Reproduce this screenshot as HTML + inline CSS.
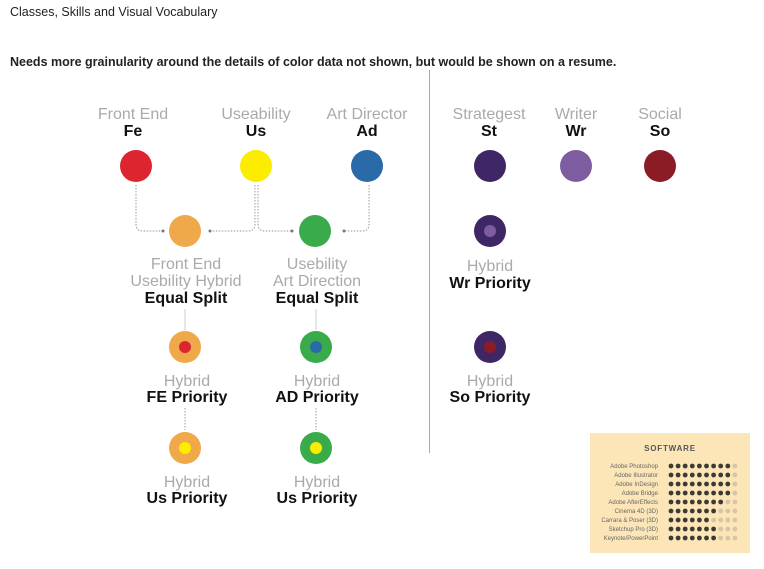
<!DOCTYPE html>
<html><head><meta charset="utf-8"><style>
body{margin:0;background:#fff;}
svg{display:block;font-family:"Liberation Sans",sans-serif;}
</style></head><body>
<svg width="764" height="569" viewBox="0 0 764 569">
<text x="10" y="16" font-size="12.5" fill="#222">Classes, Skills and Visual Vocabulary</text>
<text x="10" y="66" font-size="12.5" font-weight="bold" fill="#222">Needs more grainularity around the details of color data not shown, but would be shown on a resume.</text>
<line x1="429.5" y1="70" x2="429.5" y2="453" stroke="#aaa" stroke-width="1"/>
<g font-size="16" text-anchor="middle">
<g fill="#aaa">
<text x="133" y="119">Front End</text><text x="256" y="119">Useability</text><text x="367" y="119">Art Director</text>
<text x="489" y="119">Strategest</text><text x="576" y="119">Writer</text><text x="660" y="119">Social</text>
<text x="186" y="269">Front End</text><text x="186" y="286">Usebility Hybrid</text>
<text x="317" y="269">Usebility</text><text x="317" y="286">Art Direction</text>
<text x="490" y="271">Hybrid</text>
<text x="187" y="386">Hybrid</text><text x="317" y="386">Hybrid</text><text x="490" y="386">Hybrid</text>
<text x="187" y="487">Hybrid</text><text x="317" y="487">Hybrid</text>
</g>
<g fill="#111" font-weight="bold">
<text x="133" y="136">Fe</text><text x="256" y="136">Us</text><text x="367" y="136">Ad</text>
<text x="489" y="136">St</text><text x="576" y="136">Wr</text><text x="660" y="136">So</text>
<text x="186" y="303">Equal Split</text><text x="317" y="303">Equal Split</text>
<text x="490" y="288">Wr Priority</text>
<text x="187" y="402">FE Priority</text><text x="317" y="402">AD Priority</text><text x="490" y="402">So Priority</text>
<text x="187" y="503">Us Priority</text><text x="317" y="503">Us Priority</text>
</g>
</g>
<g fill="none" stroke="#999" stroke-width="1" stroke-dasharray="1.5,1.5">
<path d="M136 185 V224 Q136 231 143 231 H162"/>
<path d="M255 185 V224 Q255 231 248 231 H211"/>
<path d="M258 185 V224 Q258 231 265 231 H292"/>
<path d="M369 185 V224 Q369 231 362 231 H343"/>
<path d="M185 408 V430"/><path d="M316 408 V430"/>
</g>
<g stroke="#ccc"><line x1="185" y1="309" x2="185" y2="330"/><line x1="316" y1="309" x2="316" y2="330"/></g>
<g fill="#777"><circle cx="163" cy="231" r="1.5"/><circle cx="210" cy="231" r="1.5"/><circle cx="292" cy="231" r="1.5"/><circle cx="344" cy="231" r="1.5"/></g>
<circle cx="136" cy="166" r="16" fill="#dd2530"/>
<circle cx="256" cy="166" r="16" fill="#fcec00"/>
<circle cx="367" cy="166" r="16" fill="#2a6aa8"/>
<circle cx="490" cy="166" r="16" fill="#3f2766"/>
<circle cx="576" cy="166" r="16" fill="#7e5ca0"/>
<circle cx="660" cy="166" r="16" fill="#8b1c25"/>
<circle cx="185" cy="231" r="16" fill="#f0a94a"/>
<circle cx="315" cy="231" r="16" fill="#3aab4a"/>
<circle cx="490" cy="231" r="16" fill="#3f2766"/><circle cx="490" cy="231" r="6" fill="#7e5ca0"/>
<circle cx="490" cy="347" r="16" fill="#3f2766"/><circle cx="490" cy="347" r="6" fill="#8b1c25"/>
<circle cx="185" cy="347" r="16" fill="#f0a94a"/><circle cx="185" cy="347" r="6" fill="#dd2530"/>
<circle cx="316" cy="347" r="16" fill="#3aab4a"/><circle cx="316" cy="347" r="6" fill="#2a6aa8"/>
<circle cx="185" cy="448" r="16" fill="#f0a94a"/><circle cx="185" cy="448" r="6" fill="#fcec00"/>
<circle cx="316" cy="448" r="16" fill="#3aab4a"/><circle cx="316" cy="448" r="6" fill="#fcec00"/>
<rect x="590" y="433" width="160" height="120" fill="#fce6b8"/>
<text x="670" y="451" font-size="8" font-weight="bold" fill="#555" text-anchor="middle" letter-spacing="0.8">SOFTWARE</text>
<g font-size="6" fill="#666" text-anchor="end">
<text x="658" y="468">Adobe Photoshop</text><text x="658" y="477">Adobe Illustrator</text><text x="658" y="486">Adobe InDesign</text>
<text x="658" y="495">Adobe Bridge</text><text x="658" y="504">Adobe AfterEffects</text><text x="658" y="513">Cinema 4D (3D)</text>
<text x="658" y="522">Carrara &amp; Poser (3D)</text><text x="658" y="531">Sketchup Pro (3D)</text><text x="658" y="540">Keynote/PowerPoint</text>
</g>
<g id="dots"></g>
</svg>
<script>
var n=[9,9,9,9,8,7,6,7,7],g=document.getElementById('dots'),s='';
for(var r=0;r<9;r++)for(var c=0;c<10;c++)s+='<circle cx="'+(671+c*7.1)+'" cy="'+(466+r*9)+'" r="2.4" fill="'+(c<n[r]?'#3d3a35':'#d6c6a3')+'"/>';
g.innerHTML=s;
</script>
</body></html>
